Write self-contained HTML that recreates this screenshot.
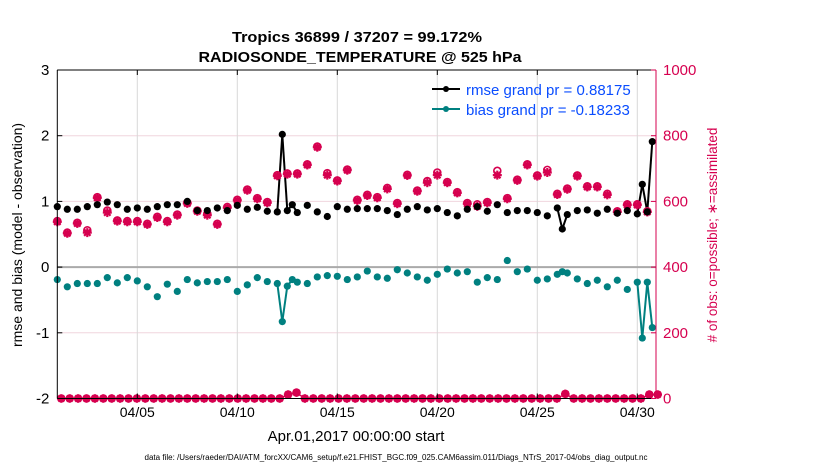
<!DOCTYPE html>
<html><head><meta charset="utf-8"><style>
body{margin:0;background:#fff;}
svg{display:block;font-family:"Liberation Sans",sans-serif;}
</style></head><body>
<svg id="chart" width="830" height="470" viewBox="0 0 830 470">
<g id="grid"></g>
<g id="plot"></g>
<g id="axes"></g>
<text x="357" y="42" text-anchor="middle" font-weight="bold" font-size="14.5" textLength="250" lengthAdjust="spacingAndGlyphs">Tropics 36899 / 37207 = 99.172%</text>
<text x="360" y="62" text-anchor="middle" font-weight="bold" font-size="14.5" textLength="323" lengthAdjust="spacingAndGlyphs">RADIOSONDE_TEMPERATURE @ 525 hPa</text>
<text transform="translate(22,235) rotate(-90)" text-anchor="middle" font-size="14">rmse and bias (model - observation)</text>
<text transform="translate(717,235) rotate(-90)" text-anchor="middle" font-size="13.5" fill="#d6004f"># of obs: o=possible; ∗=assimilated</text>
<text x="356" y="441" text-anchor="middle" font-size="15">Apr.01,2017 00:00:00 start</text>
<text x="396" y="460" text-anchor="middle" font-size="8" textLength="503" lengthAdjust="spacingAndGlyphs">data file: /Users/raeder/DAI/ATM_forcXX/CAM6_setup/f.e21.FHIST_BGC.f09_025.CAM6assim.011/Diags_NTrS_2017-04/obs_diag_output.nc</text>
<g>
<line x1="432" y1="89" x2="460" y2="89" stroke="#000" stroke-width="2"/>
<circle cx="446" cy="89" r="3" fill="#000"/>
<text x="466" y="95" font-size="15" fill="#0a4dff">rmse grand pr = 0.88175</text>
<line x1="432" y1="109" x2="460" y2="109" stroke="#008080" stroke-width="2"/>
<circle cx="446" cy="109" r="3" fill="#008080"/>
<text x="466" y="115" font-size="15" fill="#0a4dff">bias grand pr = -0.18233</text>
</g>
</svg>
<script>
// data
const times = [0,0.5,1,1.5,2,2.5,3,3.5,4,4.5,5,5.5,6,6.5,7,7.5,8,8.5,9,9.5,10,10.5,11,11.25,11.5,11.75,12,12.5,13,13.5,14,14.5,15,15.5,16,16.5,17,17.5,18,18.5,19,19.5,20,20.5,21,21.5,22,22.5,23,23.5,24,24.5,25,25.25,25.5,26,26.5,27,27.5,28,28.5,29,29.25,29.5,29.75];
const rmse = [.92,.88,.88,.92,.95,.99,.95,.88,.90,.88,.92,.95,.95,1.00,.86,.86,.90,.86,.94,.88,.91,.85,.84,2.02,.86,.95,.83,.94,.84,.77,.92,.88,.89,.89,.89,.86,.80,.88,.92,.87,.89,.83,.78,.88,.92,.85,.95,.83,.86,.86,.83,.78,.90,.58,.80,.86,.87,.82,.88,.82,.86,.81,1.26,.84,1.91];
const bias = [-.19,-.30,-.25,-.25,-.25,-.16,-.24,-.16,-.21,-.30,-.45,-.26,-.37,-.19,-.24,-.22,-.22,-.19,-.37,-.27,-.16,-.22,-.25,-.83,-.29,-.19,-.23,-.25,-.15,-.13,-.14,-.19,-.15,-.06,-.15,-.17,-.04,-.09,-.15,-.20,-.11,-.03,-.09,-.07,-.23,-.16,-.19,.10,-.07,-.03,-.20,-.18,-.11,-.07,-.09,-.18,-.25,-.20,-.30,-.20,-.34,-.23,-1.08,-.23,-.92];
const possible = [540,505,535,512,613,572,542,540,540,532,553,540,560,596,572,562,532,583,605,636,610,598,680,null,685,null,685,713,767,686,664,697,605,620,613,641,595,681,633,662,688,659,628,595,591,598,693,610,666,713,679,696,623,null,639,679,646,646,623,570,591,591,null,570,null];
const assimilated = [538,503,533,505,611,566,540,538,538,530,551,538,558,594,570,558,530,581,603,634,608,596,678,null,683,null,683,711,765,680,662,695,603,618,611,638,593,679,631,657,680,657,626,593,585,596,680,608,664,711,677,688,621,null,637,677,644,644,620,568,589,589,null,568,null];
const lowCounts = [0,0,0,0,0,0,0,0,0,0,0,0,0,0,0,0,0,0,0,0,0,0,0,0,0,0,0,12,18,0,0,0,0,0,0,0,0,0,0,0,0,0,0,0,0,0,0,0,0,0,0,0,0,0,0,0,0,0,0,0,14,0,0,0,0,0,0,0,0,0,12,12];
const lowStep = 0.42;
const xTickDays = [4,9,14,19,24,29];
const xTickLabels = ["04/05","04/10","04/15","04/20","04/25","04/30"];
const yTicks = [-2,-1,0,1,2,3];
const yRightTicks = [0,200,400,600,800,1000];

const NS="http://www.w3.org/2000/svg";
const L=57.3,R=656,T=70,B=398.5;
const xS=d=>L+d*20;
const yS=v=>T+(3-v)*(B-T)/5;
const yC=c=>B-c*(B-T)/1000;
const RED="#d6004f";
function mk(tag,parent,attrs){const e=document.createElementNS(NS,tag);for(const k in attrs)e.setAttribute(k,attrs[k]);parent.appendChild(e);return e;}
const grid=document.getElementById('grid'),plot=document.getElementById('plot'),axes=document.getElementById('axes');

yRightTicks.forEach(c=>{if(c>0&&c<1000){const g=mk('line',grid,{x1:L,x2:R,y1:yC(c),y2:yC(c),stroke:'#f0d6de','stroke-width':1});

}});
xTickDays.forEach(d=>{const g=mk('line',grid,{x1:xS(d),x2:xS(d),y1:T,y2:B,stroke:'#d8d8d8','stroke-width':1});

});
const z=mk('line',grid,{x1:L,x2:R,y1:yS(0),y2:yS(0),stroke:'#aaa','stroke-width':2});



function drawLines(vals,color,name){
  for(let i=1;i<times.length;i++){
    if(times[i]-times[i-1]<=0.26){
      const ln=mk('line',plot,{x1:xS(times[i-1]),y1:yS(vals[i-1]),x2:xS(times[i]),y2:yS(vals[i]),stroke:color,'stroke-width':2});
      
      
    }
  }
}
drawLines(rmse,'#000','rmse');
drawLines(bias,'#008080','bias');

function star(cx,cy,s){
  const g=mk('g',plot,{stroke:RED,'stroke-width':2.2});
  
  
  const a=4.5*s,b=3.2*s;
  mk('line',g,{x1:cx-a,x2:cx+a,y1:cy,y2:cy});
  mk('line',g,{x1:cx,x2:cx,y1:cy-a,y2:cy+a});
  mk('line',g,{x1:cx-b,x2:cx+b,y1:cy-b,y2:cy+b});
  mk('line',g,{x1:cx-b,x2:cx+b,y1:cy+b,y2:cy-b});
}
function circ(cx,cy,s){
  const c=mk('circle',plot,{cx:cx,cy:cy,r:3.5*s,fill:'none',stroke:RED,'stroke-width':1.6});
  
  
}
for(let i=1;i<lowCounts.length;i++){
  const ln=mk('line',plot,{x1:xS(0.2+(i-1)*lowStep),y1:yC(lowCounts[i-1]),x2:xS(0.2+i*lowStep),y2:yC(lowCounts[i]),stroke:RED,'stroke-width':1.5});
  
  
}
lowCounts.forEach((c,i)=>{const d=0.2+i*lowStep;circ(xS(d),yC(c),0.95);star(xS(d),yC(c),0.95);});
times.forEach((t,i)=>{
  if(possible[i]!==null)circ(xS(t),yC(possible[i]),1);
  if(assimilated[i]!==null)star(xS(t),yC(assimilated[i]),1);
});

times.forEach((t,i)=>{
  const a=mk('circle',plot,{cx:xS(t),cy:yS(rmse[i]),r:3.6,fill:'#000'});
  
  
  const b=mk('circle',plot,{cx:xS(t),cy:yS(bias[i]),r:3.6,fill:'#008080'});
  
  
});

const fr=[[L,T,R,T,'#000'],[L,T,L,B,'#000'],[L,B,R,B,'#000'],[R,T,R,B,RED]];
fr.forEach(f=>{const l=mk('line',axes,{x1:f[0],y1:f[1],x2:f[2],y2:f[3],stroke:f[4],'stroke-width':1});

});
yTicks.forEach(v=>{
  mk('line',axes,{x1:L,x2:L+5,y1:yS(v),y2:yS(v),stroke:'#000'});
  const t=mk('text',axes,{x:L-8,y:yS(v)+5,'text-anchor':'end','font-size':15});
  t.textContent=String(v);
  
  
});
yRightTicks.forEach(c=>{
  mk('line',axes,{x1:R-5,x2:R,y1:yC(c),y2:yC(c),stroke:RED});
  const t=mk('text',axes,{x:R+7,y:yC(c)+5,'font-size':15,fill:RED});
  t.textContent=String(c);
  
  
});
xTickDays.forEach((d,i)=>{
  mk('line',axes,{x1:xS(d),x2:xS(d),y1:B,y2:B-5,stroke:'#000'});
  mk('line',axes,{x1:xS(d),x2:xS(d),y1:T,y2:T+5,stroke:'#000'});
  const t=mk('text',axes,{x:xS(d),y:417,'text-anchor':'middle','font-size':14});
  t.textContent=xTickLabels[i];
  
  
});
</script>
</body></html>
